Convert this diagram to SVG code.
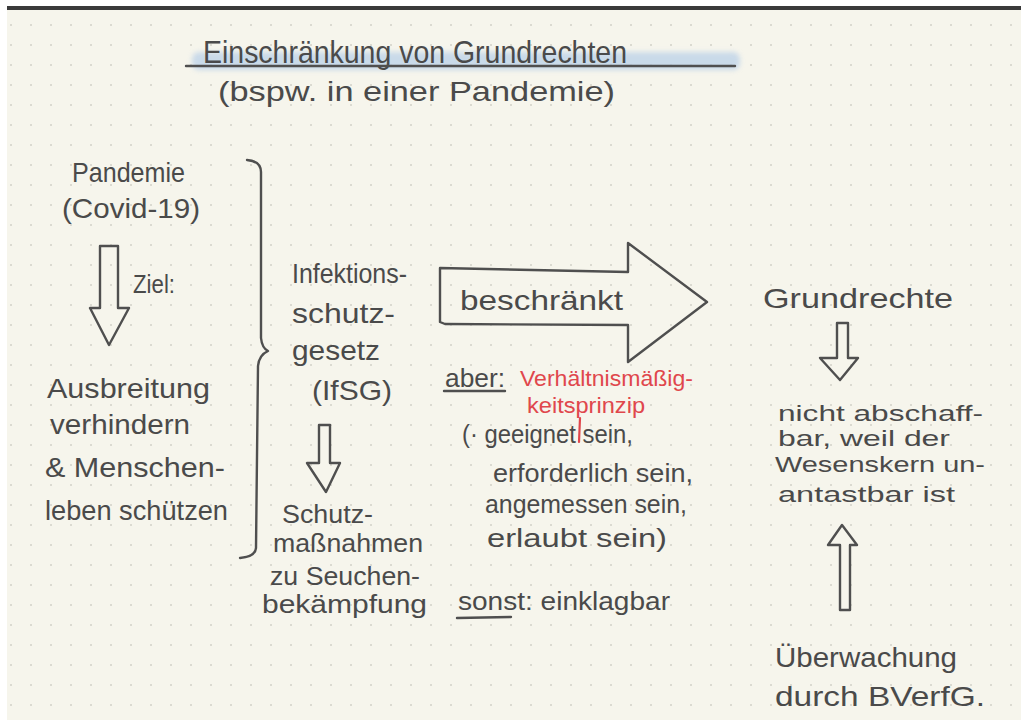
<svg xmlns="http://www.w3.org/2000/svg" width="1021" height="720" viewBox="0 0 1021 720">
<defs>
<pattern id="dots" x="10" y="24" width="20" height="20" patternUnits="userSpaceOnUse">
<circle cx="1" cy="1" r="1" fill="#d2d2c8"/>
</pattern>
<filter id="soft" x="-5%" y="-60%" width="110%" height="220%"><feGaussianBlur stdDeviation="2.5"/></filter>
<style>
text{font-family:"Liberation Sans","DejaVu Sans",sans-serif;fill:#4a4a4a;}
.h{font-size:28px;}
.s{font-size:26px;}
.t{font-size:22px;}
.red{fill:#e0474c;}
.ln{fill:none;stroke:#4f4f4f;stroke-width:2.4;stroke-linecap:round;stroke-linejoin:round;}
</style>
</defs>
<rect width="1021" height="720" fill="#f6f5ec"/>
<rect width="1021" height="720" fill="url(#dots)"/>
<rect x="0" y="0" width="1021" height="6" fill="#ffffff"/>
<rect x="0" y="6" width="1021" height="4" fill="#3a3a3a"/>
<rect x="0" y="0" width="7" height="720" fill="#ffffff"/>

<g id="title">
<rect x="192" y="52" width="548" height="18" rx="7" fill="#b7cfe8" opacity="0.7" filter="url(#soft)"/>
<text x="203" y="63" font-size="32" textLength="424" lengthAdjust="spacingAndGlyphs">Einschränkung von Grundrechten</text>
<line class="ln" x1="186" y1="66" x2="735" y2="66" stroke-width="2"/>
<text x="218" y="101" class="h" textLength="397" lengthAdjust="spacingAndGlyphs">(bspw. in einer Pandemie)</text>
</g>

<g id="pandemie">
<text x="72" y="182" class="h" textLength="113" lengthAdjust="spacingAndGlyphs">Pandemie</text>
<text x="62" y="218" class="h" textLength="138" lengthAdjust="spacingAndGlyphs">(Covid-19)</text>
</g>

<g id="ziel">
<text x="133" y="293" class="s" textLength="42" lengthAdjust="spacingAndGlyphs">Ziel:</text>
</g>

<g id="ausbreitung">
<text x="47" y="398" class="h" textLength="163" lengthAdjust="spacingAndGlyphs">Ausbreitung</text>
<text x="50" y="434" class="h" textLength="140" lengthAdjust="spacingAndGlyphs">verhindern</text>
<text x="45" y="477" class="h" textLength="180" lengthAdjust="spacingAndGlyphs">&amp; Menschen-</text>
<text x="45" y="520" class="h" textLength="183" lengthAdjust="spacingAndGlyphs">leben schützen</text>
</g>

<g id="ifsg">
<text x="292" y="283" class="h" textLength="115" lengthAdjust="spacingAndGlyphs">Infektions-</text>
<text x="292" y="323" class="h" textLength="103" lengthAdjust="spacingAndGlyphs">schutz-</text>
<text x="292" y="360" class="h" textLength="88" lengthAdjust="spacingAndGlyphs">gesetz</text>
<text x="312" y="400" class="h" textLength="80" lengthAdjust="spacingAndGlyphs">(IfSG)</text>
</g>

<g id="schutzmassnahmen">
<text x="282" y="523" class="s" textLength="91" lengthAdjust="spacingAndGlyphs">Schutz-</text>
<text x="273" y="552" class="s" textLength="150" lengthAdjust="spacingAndGlyphs">maßnahmen</text>
<text x="270" y="585" class="s" textLength="150" lengthAdjust="spacingAndGlyphs">zu Seuchen-</text>
<text x="262" y="613" class="s" textLength="165" lengthAdjust="spacingAndGlyphs">bekämpfung</text>
</g>

<g id="beschraenkt">
<text x="460" y="310" class="h" textLength="163" lengthAdjust="spacingAndGlyphs">beschränkt</text>
</g>

<g id="verhaeltnis">
<text x="445" y="387" class="s" textLength="60" lengthAdjust="spacingAndGlyphs">aber:</text>
<line class="ln" x1="444" y1="391" x2="505" y2="391" stroke-width="2"/>
<text x="520" y="386" class="t red" textLength="173" lengthAdjust="spacingAndGlyphs">Verhältnismäßig-</text>
<text x="527" y="413" class="t red" textLength="118" lengthAdjust="spacingAndGlyphs">keitsprinzip</text>
<line x1="580" y1="418" x2="579" y2="442" stroke="#e0474c" stroke-width="2.2" stroke-linecap="round"/>
<text x="462" y="443" class="s" textLength="171" lengthAdjust="spacingAndGlyphs">(· geeignet sein,</text>
<text x="493" y="482" class="s" textLength="200" lengthAdjust="spacingAndGlyphs">erforderlich sein,</text>
<text x="485" y="513" class="s" textLength="202" lengthAdjust="spacingAndGlyphs">angemessen sein,</text>
<text x="487" y="547" class="s" textLength="180" lengthAdjust="spacingAndGlyphs">erlaubt sein)</text>
</g>

<g id="sonst">
<text x="458" y="610" class="s" textLength="212" lengthAdjust="spacingAndGlyphs">sonst: einklagbar</text>
<line class="ln" x1="457" y1="618" x2="511" y2="617" stroke-width="2"/>
</g>

<g id="grundrechte">
<text x="763" y="308" class="h" textLength="190" lengthAdjust="spacingAndGlyphs">Grundrechte</text>
</g>

<g id="wesenskern">
<text x="778" y="421" class="t" textLength="205" lengthAdjust="spacingAndGlyphs">nicht abschaff-</text>
<text x="778" y="446" class="t" textLength="172" lengthAdjust="spacingAndGlyphs">bar, weil der</text>
<text x="775" y="472" class="t" textLength="210" lengthAdjust="spacingAndGlyphs">Wesenskern un-</text>
<text x="778" y="502" class="t" textLength="177" lengthAdjust="spacingAndGlyphs">antastbar ist</text>
</g>

<g id="bverfg">
<text x="775" y="667" class="h" textLength="182" lengthAdjust="spacingAndGlyphs">Überwachung</text>
<text x="775" y="706" class="h" textLength="210" lengthAdjust="spacingAndGlyphs">durch BVerfG.</text>
</g>

<g id="connectors">
<path class="ln" d="M247,160 Q261,161 261,172 L261,338 Q262,348 268,351 Q259,355 258,366 L256,548 Q255,557 240,558"/>
<path class="ln" d="M100,246 L118,246 L118,308 L129,308 L109,345 L90,308 L100,308 Z"/>
<path class="ln" d="M319,425 L330,425 L330,463 L340,463 L326,492 L307,463 L319,463 Z"/>
<path class="ln" d="M440,268 L628,272 L628,243 L707,302 L628,362 L628,325 L445,324 L440,322 Z"/>
<path class="ln" d="M837,323 L848,323 L848,358 L858,358 L840,380 L820,358 L837,358 Z"/>
<path class="ln" d="M840,610 L850,610 L850,545 L857,545 L842,525 L828,545 L840,545 Z"/>
</g>
</svg>
